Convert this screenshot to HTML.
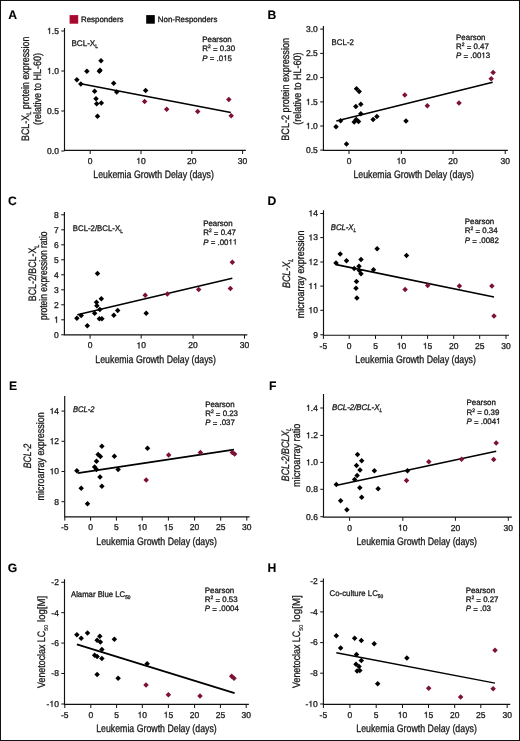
<!DOCTYPE html>
<html><head><meta charset="utf-8"><title>Figure</title>
<style>html,body{margin:0;padding:0;background:#fff;overflow:hidden;width:520px;height:741px;}svg{display:block;will-change:transform;}text{text-rendering:geometricPrecision;stroke:#222;stroke-width:0.3px;}</style>
</head><body>
<svg width="520" height="741" viewBox="0 0 520 741" font-family="Liberation Sans" fill="#111">
<defs><path id="one" d="M347 0V-709H289C258 -600 238 -585 102 -568V-505H259V0Z" fill="#111" stroke="#222" stroke-width="0.3" vector-effect="non-scaling-stroke"/></defs>
<rect x="0" y="0" width="520" height="741" fill="#fff"/>
<rect x="69.6" y="15.1" width="8.6" height="8.6" fill="#a8072f"/>
<text x="81" y="22.2" font-size="7.9">Responders</text>
<rect x="146.2" y="15.1" width="8.6" height="8.6" fill="#000"/>
<text x="157.8" y="22.2" font-size="7.9">Non-Responders</text>
<text x="8.20" y="18.75" font-size="12.2" font-weight="bold" fill="#000" style="stroke-width:0.1px">A</text>
<path d="M64.50 28.00V150.30H245.80" fill="none" stroke="#111" stroke-width="1.15"/>
<path d="M61.30 31.00H64.50" stroke="#111" stroke-width="1"/>
<text x="47.08" y="33.85" font-size="8.5"> .5</text><use href="#one" transform="translate(47.08 33.85) scale(0.00850)"/>
<path d="M61.30 71.00H64.50" stroke="#111" stroke-width="1"/>
<text x="47.08" y="73.85" font-size="8.5"> .0</text><use href="#one" transform="translate(47.08 73.85) scale(0.00850)"/>
<path d="M61.30 111.00H64.50" stroke="#111" stroke-width="1"/>
<text x="47.08" y="113.85" font-size="8.5">0.5</text>
<path d="M61.30 151.00H64.50" stroke="#111" stroke-width="1"/>
<text x="47.08" y="153.85" font-size="8.5">0.0</text>
<path d="M90.20 150.30V154.00" stroke="#111" stroke-width="1"/>
<text x="87.84" y="163.80" font-size="8.5">0</text>
<path d="M141.00 150.30V154.00" stroke="#111" stroke-width="1"/>
<text x="136.27" y="163.80" font-size="8.5"> 0</text><use href="#one" transform="translate(136.27 163.80) scale(0.00850)"/>
<path d="M191.80 150.30V154.00" stroke="#111" stroke-width="1"/>
<text x="187.07" y="163.80" font-size="8.5">20</text>
<path d="M242.60 150.30V154.00" stroke="#111" stroke-width="1"/>
<text x="237.87" y="163.80" font-size="8.5">30</text>
<path d="M80.80 83.70L230.80 112.50" stroke="#000" stroke-width="1.6"/>
<path d="M76.90 77.05L79.65 79.80L76.90 82.55L74.15 79.80Z" fill="#000"/>
<path d="M80.80 81.25L83.55 84.00L80.80 86.75L78.05 84.00Z" fill="#000"/>
<path d="M86.90 68.55L89.65 71.30L86.90 74.05L84.15 71.30Z" fill="#000"/>
<path d="M101.00 58.05L103.75 60.80L101.00 63.55L98.25 60.80Z" fill="#000"/>
<path d="M99.40 68.45L102.15 71.20L99.40 73.95L96.65 71.20Z" fill="#000"/>
<path d="M100.00 67.45L102.75 70.20L100.00 72.95L97.25 70.20Z" fill="#000"/>
<path d="M94.60 88.55L97.35 91.30L94.60 94.05L91.85 91.30Z" fill="#000"/>
<path d="M96.00 95.95L98.75 98.70L96.00 101.45L93.25 98.70Z" fill="#000"/>
<path d="M96.70 101.05L99.45 103.80L96.70 106.55L93.95 103.80Z" fill="#000"/>
<path d="M101.30 100.15L104.05 102.90L101.30 105.65L98.55 102.90Z" fill="#000"/>
<path d="M97.50 113.55L100.25 116.30L97.50 119.05L94.75 116.30Z" fill="#000"/>
<path d="M113.70 80.55L116.45 83.30L113.70 86.05L110.95 83.30Z" fill="#000"/>
<path d="M116.70 89.15L119.45 91.90L116.70 94.65L113.95 91.90Z" fill="#000"/>
<path d="M145.60 87.65L148.35 90.40L145.60 93.15L142.85 90.40Z" fill="#000"/>
<path d="M144.60 98.75L147.35 101.50L144.60 104.25L141.85 101.50Z" fill="#7d1036"/>
<path d="M166.70 106.45L169.45 109.20L166.70 111.95L163.95 109.20Z" fill="#7d1036"/>
<path d="M197.70 108.75L200.45 111.50L197.70 114.25L194.95 111.50Z" fill="#7d1036"/>
<path d="M228.80 96.85L231.55 99.60L228.80 102.35L226.05 99.60Z" fill="#7d1036"/>
<path d="M231.20 113.05L233.95 115.80L231.20 118.55L228.45 115.80Z" fill="#7d1036"/>
<text transform="translate(71.40 45.70) scale(0.99 1)" font-size="8.2"><tspan>BCL-X</tspan><tspan font-size="5.08" dy="1.80">L</tspan></text>
<text x="202.30" y="41.90" font-size="7.9">Pearson</text>
<text x="202.30" y="51.00" font-size="7.9">R<tspan font-size="4.90" dy="-3.00">2</tspan><tspan dy="3.80"> =</tspan><tspan dy="-0.8"> 0.30</tspan></text>
<text x="202.30" y="60.60" font-size="7.9"><tspan font-style="italic">P</tspan><tspan dy="0.8"> =</tspan><tspan dy="-0.8"> .0 5</tspan></text>
<use href="#one" transform="translate(223.16 60.60) scale(0.00790)"/>
<text transform="translate(28.70 88.80) rotate(-90)" text-anchor="middle" font-size="10.8" textLength="104.40" lengthAdjust="spacingAndGlyphs"><tspan>BCL-X</tspan><tspan font-size="6.70" dy="2.38">L</tspan><tspan dy="-2.38"> protein expression</tspan></text>
<text transform="translate(41.00 89.00) rotate(-90)" text-anchor="middle" font-size="10.8" textLength="72.00" lengthAdjust="spacingAndGlyphs"><tspan>(relative to HL-60)</tspan></text>
<text x="93.35" y="177.70" font-size="10.8" textLength="120.6" lengthAdjust="spacingAndGlyphs">Leukemia Growth Delay (days)</text>
<text x="267.50" y="19.20" font-size="12.2" font-weight="bold" fill="#000" style="stroke-width:0.1px">B</text>
<path d="M323.40 26.00V150.30H507.90" fill="none" stroke="#111" stroke-width="1.15"/>
<path d="M320.20 29.10H323.40" stroke="#111" stroke-width="1"/>
<text x="305.98" y="31.95" font-size="8.5">3.0</text>
<path d="M320.20 53.40H323.40" stroke="#111" stroke-width="1"/>
<text x="305.98" y="56.25" font-size="8.5">2.5</text>
<path d="M320.20 77.60H323.40" stroke="#111" stroke-width="1"/>
<text x="305.98" y="80.45" font-size="8.5">2.0</text>
<path d="M320.20 101.90H323.40" stroke="#111" stroke-width="1"/>
<text x="305.98" y="104.75" font-size="8.5"> .5</text><use href="#one" transform="translate(305.98 104.75) scale(0.00850)"/>
<path d="M320.20 126.00H323.40" stroke="#111" stroke-width="1"/>
<text x="305.98" y="128.85" font-size="8.5"> .0</text><use href="#one" transform="translate(305.98 128.85) scale(0.00850)"/>
<path d="M320.20 150.10H323.40" stroke="#111" stroke-width="1"/>
<text x="305.98" y="152.95" font-size="8.5">0.5</text>
<path d="M349.00 150.30V154.00" stroke="#111" stroke-width="1"/>
<text x="346.64" y="163.80" font-size="8.5">0</text>
<path d="M401.30 150.30V154.00" stroke="#111" stroke-width="1"/>
<text x="396.57" y="163.80" font-size="8.5"> 0</text><use href="#one" transform="translate(396.57 163.80) scale(0.00850)"/>
<path d="M453.00 150.30V154.00" stroke="#111" stroke-width="1"/>
<text x="448.27" y="163.80" font-size="8.5">20</text>
<path d="M505.20 150.30V154.00" stroke="#111" stroke-width="1"/>
<text x="500.47" y="163.80" font-size="8.5">30</text>
<path d="M336.30 121.00L492.70 82.30" stroke="#000" stroke-width="1.6"/>
<path d="M336.00 123.95L338.75 126.70L336.00 129.45L333.25 126.70Z" fill="#000"/>
<path d="M340.60 118.05L343.35 120.80L340.60 123.55L337.85 120.80Z" fill="#000"/>
<path d="M346.50 141.25L349.25 144.00L346.50 146.75L343.75 144.00Z" fill="#000"/>
<path d="M354.20 119.15L356.95 121.90L354.20 124.65L351.45 121.90Z" fill="#000"/>
<path d="M356.20 116.85L358.95 119.60L356.20 122.35L353.45 119.60Z" fill="#000"/>
<path d="M358.50 118.75L361.25 121.50L358.50 124.25L355.75 121.50Z" fill="#000"/>
<path d="M355.80 103.65L358.55 106.40L355.80 109.15L353.05 106.40Z" fill="#000"/>
<path d="M360.80 101.45L363.55 104.20L360.80 106.95L358.05 104.20Z" fill="#000"/>
<path d="M360.80 111.05L363.55 113.80L360.80 116.55L358.05 113.80Z" fill="#000"/>
<path d="M356.50 86.05L359.25 88.80L356.50 91.55L353.75 88.80Z" fill="#000"/>
<path d="M359.20 88.75L361.95 91.50L359.20 94.25L356.45 91.50Z" fill="#000"/>
<path d="M373.10 116.85L375.85 119.60L373.10 122.35L370.35 119.60Z" fill="#000"/>
<path d="M376.90 113.75L379.65 116.50L376.90 119.25L374.15 116.50Z" fill="#000"/>
<path d="M406.00 118.25L408.75 121.00L406.00 123.75L403.25 121.00Z" fill="#000"/>
<path d="M404.80 92.25L407.55 95.00L404.80 97.75L402.05 95.00Z" fill="#7d1036"/>
<path d="M427.30 103.05L430.05 105.80L427.30 108.55L424.55 105.80Z" fill="#7d1036"/>
<path d="M459.00 100.15L461.75 102.90L459.00 105.65L456.25 102.90Z" fill="#7d1036"/>
<path d="M491.20 76.05L493.95 78.80L491.20 81.55L488.45 78.80Z" fill="#7d1036"/>
<path d="M493.10 69.75L495.85 72.50L493.10 75.25L490.35 72.50Z" fill="#7d1036"/>
<text transform="translate(331.60 45.20) scale(0.96 1)" font-size="8.2"><tspan>BCL-2</tspan></text>
<text x="456.10" y="40.00" font-size="7.9">Pearson</text>
<text x="456.10" y="49.00" font-size="7.9">R<tspan font-size="4.90" dy="-3.00">2</tspan><tspan dy="3.80"> =</tspan><tspan dy="-0.8"> 0.47</tspan></text>
<text x="456.10" y="58.10" font-size="7.9"><tspan font-style="italic">P</tspan><tspan dy="0.8"> =</tspan><tspan dy="-0.8"> .00 3</tspan></text>
<use href="#one" transform="translate(481.35 58.10) scale(0.00790)"/>
<text transform="translate(288.90 89.35) rotate(-90)" text-anchor="middle" font-size="10.8" textLength="102.90" lengthAdjust="spacingAndGlyphs"><tspan>BCL-2 protein expression</tspan></text>
<text transform="translate(300.80 88.60) rotate(-90)" text-anchor="middle" font-size="10.8" textLength="72.20" lengthAdjust="spacingAndGlyphs"><tspan>(relative to HL-60)</tspan></text>
<text x="353.40" y="177.70" font-size="10.8" textLength="120.6" lengthAdjust="spacingAndGlyphs">Leukemia Growth Delay (days)</text>
<text x="8.10" y="204.80" font-size="12.2" font-weight="bold" fill="#000" style="stroke-width:0.1px">C</text>
<path d="M64.40 212.00V334.90H247.30" fill="none" stroke="#111" stroke-width="1.15"/>
<path d="M61.20 334.80H64.40" stroke="#111" stroke-width="1"/>
<text x="54.07" y="337.65" font-size="8.5">0</text>
<path d="M61.20 319.80H64.40" stroke="#111" stroke-width="1"/>
<text x="54.07" y="322.65" font-size="8.5"> </text><use href="#one" transform="translate(54.07 322.65) scale(0.00850)"/>
<path d="M61.20 304.80H64.40" stroke="#111" stroke-width="1"/>
<text x="54.07" y="307.65" font-size="8.5">2</text>
<path d="M61.20 289.80H64.40" stroke="#111" stroke-width="1"/>
<text x="54.07" y="292.65" font-size="8.5">3</text>
<path d="M61.20 274.80H64.40" stroke="#111" stroke-width="1"/>
<text x="54.07" y="277.65" font-size="8.5">4</text>
<path d="M61.20 259.80H64.40" stroke="#111" stroke-width="1"/>
<text x="54.07" y="262.65" font-size="8.5">5</text>
<path d="M61.20 244.80H64.40" stroke="#111" stroke-width="1"/>
<text x="54.07" y="247.65" font-size="8.5">6</text>
<path d="M61.20 229.80H64.40" stroke="#111" stroke-width="1"/>
<text x="54.07" y="232.65" font-size="8.5">7</text>
<path d="M61.20 214.80H64.40" stroke="#111" stroke-width="1"/>
<text x="54.07" y="217.65" font-size="8.5">8</text>
<path d="M90.10 334.90V338.60" stroke="#111" stroke-width="1"/>
<text x="87.74" y="348.40" font-size="8.5">0</text>
<path d="M141.20 334.90V338.60" stroke="#111" stroke-width="1"/>
<text x="136.47" y="348.40" font-size="8.5"> 0</text><use href="#one" transform="translate(136.47 348.40) scale(0.00850)"/>
<path d="M193.10 334.90V338.60" stroke="#111" stroke-width="1"/>
<text x="188.37" y="348.40" font-size="8.5">20</text>
<path d="M244.50 334.90V338.60" stroke="#111" stroke-width="1"/>
<text x="239.77" y="348.40" font-size="8.5">30</text>
<path d="M77.30 314.80L232.30 278.30" stroke="#000" stroke-width="1.6"/>
<path d="M76.90 315.55L79.65 318.30L76.90 321.05L74.15 318.30Z" fill="#000"/>
<path d="M81.20 312.65L83.95 315.40L81.20 318.15L78.45 315.40Z" fill="#000"/>
<path d="M87.30 323.05L90.05 325.80L87.30 328.55L84.55 325.80Z" fill="#000"/>
<path d="M94.60 310.55L97.35 313.30L94.60 316.05L91.85 313.30Z" fill="#000"/>
<path d="M96.50 299.55L99.25 302.30L96.50 305.05L93.75 302.30Z" fill="#000"/>
<path d="M96.90 303.05L99.65 305.80L96.90 308.55L94.15 305.80Z" fill="#000"/>
<path d="M97.50 270.75L100.25 273.50L97.50 276.25L94.75 273.50Z" fill="#000"/>
<path d="M99.80 306.85L102.55 309.60L99.80 312.35L97.05 309.60Z" fill="#000"/>
<path d="M99.40 315.95L102.15 318.70L99.40 321.45L96.65 318.70Z" fill="#000"/>
<path d="M101.90 315.95L104.65 318.70L101.90 321.45L99.15 318.70Z" fill="#000"/>
<path d="M101.30 296.05L104.05 298.80L101.30 301.55L98.55 298.80Z" fill="#000"/>
<path d="M113.80 312.45L116.55 315.20L113.80 317.95L111.05 315.20Z" fill="#000"/>
<path d="M117.70 307.85L120.45 310.60L117.70 313.35L114.95 310.60Z" fill="#000"/>
<path d="M146.20 310.55L148.95 313.30L146.20 316.05L143.45 313.30Z" fill="#000"/>
<path d="M145.20 292.45L147.95 295.20L145.20 297.95L142.45 295.20Z" fill="#7d1036"/>
<path d="M167.30 291.25L170.05 294.00L167.30 296.75L164.55 294.00Z" fill="#7d1036"/>
<path d="M198.70 286.65L201.45 289.40L198.70 292.15L195.95 289.40Z" fill="#7d1036"/>
<path d="M230.40 285.75L233.15 288.50L230.40 291.25L227.65 288.50Z" fill="#7d1036"/>
<path d="M232.30 259.55L235.05 262.30L232.30 265.05L229.55 262.30Z" fill="#7d1036"/>
<text transform="translate(72.80 231.05) scale(0.954 1)" font-size="8.2"><tspan>BCL-2/BCL-X</tspan><tspan font-size="5.08" dy="1.80">L</tspan></text>
<text x="203.20" y="226.00" font-size="7.9">Pearson</text>
<text x="203.20" y="235.40" font-size="7.9">R<tspan font-size="4.90" dy="-3.00">2</tspan><tspan dy="3.80"> =</tspan><tspan dy="-0.8"> 0.47</tspan></text>
<text x="203.20" y="244.60" font-size="7.9"><tspan font-style="italic">P</tspan><tspan dy="0.8"> =</tspan><tspan dy="-0.8"> .00  </tspan></text>
<use href="#one" transform="translate(228.45 244.60) scale(0.00790)"/>
<use href="#one" transform="translate(232.85 244.60) scale(0.00790)"/>
<text transform="translate(36.40 272.90) rotate(-90)" text-anchor="middle" font-size="10.8" textLength="56.60" lengthAdjust="spacingAndGlyphs"><tspan>BCL-2/BCL-X</tspan><tspan font-size="6.70" dy="2.38">L</tspan></text>
<text transform="translate(46.80 275.75) rotate(-90)" text-anchor="middle" font-size="10.8" textLength="88.70" lengthAdjust="spacingAndGlyphs"><tspan>protein expression ratio</tspan></text>
<text x="95.35" y="362.70" font-size="10.8" textLength="120.6" lengthAdjust="spacingAndGlyphs">Leukemia Growth Delay (days)</text>
<text x="267.50" y="204.80" font-size="12.2" font-weight="bold" fill="#000" style="stroke-width:0.1px">D</text>
<path d="M323.50 210.20V335.20H509.00" fill="none" stroke="#111" stroke-width="1.15"/>
<path d="M320.30 213.50H323.50" stroke="#111" stroke-width="1"/>
<text x="308.45" y="216.35" font-size="8.5"> 4</text><use href="#one" transform="translate(308.45 216.35) scale(0.00850)"/>
<path d="M320.30 237.60H323.50" stroke="#111" stroke-width="1"/>
<text x="308.45" y="240.45" font-size="8.5"> 3</text><use href="#one" transform="translate(308.45 240.45) scale(0.00850)"/>
<path d="M320.30 262.00H323.50" stroke="#111" stroke-width="1"/>
<text x="308.45" y="264.85" font-size="8.5"> 2</text><use href="#one" transform="translate(308.45 264.85) scale(0.00850)"/>
<path d="M320.30 286.10H323.50" stroke="#111" stroke-width="1"/>
<text x="308.45" y="288.95" font-size="8.5">  </text><use href="#one" transform="translate(308.45 288.95) scale(0.00850)"/><use href="#one" transform="translate(313.17 288.95) scale(0.00850)"/>
<path d="M320.30 310.30H323.50" stroke="#111" stroke-width="1"/>
<text x="308.45" y="313.15" font-size="8.5"> 0</text><use href="#one" transform="translate(308.45 313.15) scale(0.00850)"/>
<path d="M320.30 334.80H323.50" stroke="#111" stroke-width="1"/>
<text x="313.17" y="337.65" font-size="8.5">9</text>
<path d="M323.40 335.20V338.90" stroke="#111" stroke-width="1"/>
<text x="319.62" y="348.70" font-size="8.5">-5</text>
<path d="M349.20 335.20V338.90" stroke="#111" stroke-width="1"/>
<text x="346.84" y="348.70" font-size="8.5">0</text>
<path d="M375.50 335.20V338.90" stroke="#111" stroke-width="1"/>
<text x="373.14" y="348.70" font-size="8.5">5</text>
<path d="M401.60 335.20V338.90" stroke="#111" stroke-width="1"/>
<text x="396.87" y="348.70" font-size="8.5"> 0</text><use href="#one" transform="translate(396.87 348.70) scale(0.00850)"/>
<path d="M427.60 335.20V338.90" stroke="#111" stroke-width="1"/>
<text x="422.87" y="348.70" font-size="8.5"> 5</text><use href="#one" transform="translate(422.87 348.70) scale(0.00850)"/>
<path d="M453.70 335.20V338.90" stroke="#111" stroke-width="1"/>
<text x="448.97" y="348.70" font-size="8.5">20</text>
<path d="M479.70 335.20V338.90" stroke="#111" stroke-width="1"/>
<text x="474.97" y="348.70" font-size="8.5">25</text>
<path d="M506.00 335.20V338.90" stroke="#111" stroke-width="1"/>
<text x="501.27" y="348.70" font-size="8.5">30</text>
<path d="M336.30 264.60L494.00 297.00" stroke="#000" stroke-width="1.6"/>
<path d="M336.00 260.35L338.75 263.10L336.00 265.85L333.25 263.10Z" fill="#000"/>
<path d="M340.20 251.25L342.95 254.00L340.20 256.75L337.45 254.00Z" fill="#000"/>
<path d="M346.50 258.05L349.25 260.80L346.50 263.55L343.75 260.80Z" fill="#000"/>
<path d="M354.20 265.75L356.95 268.50L354.20 271.25L351.45 268.50Z" fill="#000"/>
<path d="M359.00 263.45L361.75 266.20L359.00 268.95L356.25 266.20Z" fill="#000"/>
<path d="M359.40 267.65L362.15 270.40L359.40 273.15L356.65 270.40Z" fill="#000"/>
<path d="M361.00 271.05L363.75 273.80L361.00 276.55L358.25 273.80Z" fill="#000"/>
<path d="M361.00 256.65L363.75 259.40L361.00 262.15L358.25 259.40Z" fill="#000"/>
<path d="M356.50 278.75L359.25 281.50L356.50 284.25L353.75 281.50Z" fill="#000"/>
<path d="M356.00 285.55L358.75 288.30L356.00 291.05L353.25 288.30Z" fill="#000"/>
<path d="M356.90 295.15L359.65 297.90L356.90 300.65L354.15 297.90Z" fill="#000"/>
<path d="M373.50 267.05L376.25 269.80L373.50 272.55L370.75 269.80Z" fill="#000"/>
<path d="M377.10 246.05L379.85 248.80L377.10 251.55L374.35 248.80Z" fill="#000"/>
<path d="M406.50 252.85L409.25 255.60L406.50 258.35L403.75 255.60Z" fill="#000"/>
<path d="M405.10 286.75L407.85 289.50L405.10 292.25L402.35 289.50Z" fill="#7d1036"/>
<path d="M427.70 282.75L430.45 285.50L427.70 288.25L424.95 285.50Z" fill="#7d1036"/>
<path d="M459.40 283.15L462.15 285.90L459.40 288.65L456.65 285.90Z" fill="#7d1036"/>
<path d="M491.90 283.15L494.65 285.90L491.90 288.65L489.15 285.90Z" fill="#7d1036"/>
<path d="M494.00 313.25L496.75 316.00L494.00 318.75L491.25 316.00Z" fill="#7d1036"/>
<text transform="translate(330.75 229.70) scale(0.943 1)" font-size="8.2" font-style="italic"><tspan>BCL-X</tspan><tspan font-size="5.08" dy="1.80">L</tspan></text>
<text x="464.80" y="224.00" font-size="7.9">Pearson</text>
<text x="464.80" y="233.10" font-size="7.9">R<tspan font-size="4.90" dy="-3.00">2</tspan><tspan dy="3.80"> =</tspan><tspan dy="-0.8"> 0.34</tspan></text>
<text x="464.80" y="242.70" font-size="7.9"><tspan font-style="italic">P</tspan><tspan dy="0.8"> =</tspan><tspan dy="-0.8"> .0082</tspan></text>
<text transform="translate(290.40 273.40) rotate(-90)" text-anchor="middle" font-size="10.8" textLength="29.20" lengthAdjust="spacingAndGlyphs" font-style="italic"><tspan>BCL-X</tspan><tspan font-size="6.70" dy="2.38">L</tspan></text>
<text transform="translate(304.00 274.35) rotate(-90)" text-anchor="middle" font-size="10.8" textLength="87.70" lengthAdjust="spacingAndGlyphs"><tspan>microarray expression</tspan></text>
<text x="355.35" y="362.50" font-size="10.8" textLength="120.6" lengthAdjust="spacingAndGlyphs">Leukemia Growth Delay (days)</text>
<text x="9.00" y="389.80" font-size="12.2" font-weight="bold" fill="#000" style="stroke-width:0.1px">E</text>
<path d="M64.70 396.00V516.90H249.60" fill="none" stroke="#111" stroke-width="1.15"/>
<path d="M61.50 411.10H64.70" stroke="#111" stroke-width="1"/>
<text x="49.65" y="413.95" font-size="8.5"> 4</text><use href="#one" transform="translate(49.65 413.95) scale(0.00850)"/>
<path d="M61.50 441.30H64.70" stroke="#111" stroke-width="1"/>
<text x="49.65" y="444.15" font-size="8.5"> 2</text><use href="#one" transform="translate(49.65 444.15) scale(0.00850)"/>
<path d="M61.50 471.50H64.70" stroke="#111" stroke-width="1"/>
<text x="49.65" y="474.35" font-size="8.5"> 0</text><use href="#one" transform="translate(49.65 474.35) scale(0.00850)"/>
<path d="M61.50 501.70H64.70" stroke="#111" stroke-width="1"/>
<text x="54.37" y="504.55" font-size="8.5">8</text>
<path d="M64.80 516.90V520.60" stroke="#111" stroke-width="1"/>
<text x="61.02" y="530.40" font-size="8.5">-5</text>
<path d="M90.60 516.90V520.60" stroke="#111" stroke-width="1"/>
<text x="88.24" y="530.40" font-size="8.5">0</text>
<path d="M116.40 516.90V520.60" stroke="#111" stroke-width="1"/>
<text x="114.04" y="530.40" font-size="8.5">5</text>
<path d="M142.20 516.90V520.60" stroke="#111" stroke-width="1"/>
<text x="137.47" y="530.40" font-size="8.5"> 0</text><use href="#one" transform="translate(137.47 530.40) scale(0.00850)"/>
<path d="M168.40 516.90V520.60" stroke="#111" stroke-width="1"/>
<text x="163.67" y="530.40" font-size="8.5"> 5</text><use href="#one" transform="translate(163.67 530.40) scale(0.00850)"/>
<path d="M194.60 516.90V520.60" stroke="#111" stroke-width="1"/>
<text x="189.87" y="530.40" font-size="8.5">20</text>
<path d="M220.70 516.90V520.60" stroke="#111" stroke-width="1"/>
<text x="215.97" y="530.40" font-size="8.5">25</text>
<path d="M246.80 516.90V520.60" stroke="#111" stroke-width="1"/>
<text x="242.07" y="530.40" font-size="8.5">30</text>
<path d="M77.70 473.10L234.00 449.60" stroke="#000" stroke-width="1.6"/>
<path d="M76.90 468.05L79.65 470.80L76.90 473.55L74.15 470.80Z" fill="#000"/>
<path d="M81.20 485.55L83.95 488.30L81.20 491.05L78.45 488.30Z" fill="#000"/>
<path d="M87.50 500.95L90.25 503.70L87.50 506.45L84.75 503.70Z" fill="#000"/>
<path d="M94.60 464.15L97.35 466.90L94.60 469.65L91.85 466.90Z" fill="#000"/>
<path d="M96.50 466.65L99.25 469.40L96.50 472.15L93.75 469.40Z" fill="#000"/>
<path d="M96.50 458.45L99.25 461.20L96.50 463.95L93.75 461.20Z" fill="#000"/>
<path d="M98.10 451.85L100.85 454.60L98.10 457.35L95.35 454.60Z" fill="#000"/>
<path d="M100.40 453.75L103.15 456.50L100.40 459.25L97.65 456.50Z" fill="#000"/>
<path d="M101.90 443.55L104.65 446.30L101.90 449.05L99.15 446.30Z" fill="#000"/>
<path d="M100.00 474.35L102.75 477.10L100.00 479.85L97.25 477.10Z" fill="#000"/>
<path d="M101.90 483.55L104.65 486.30L101.90 489.05L99.15 486.30Z" fill="#000"/>
<path d="M114.40 453.55L117.15 456.30L114.40 459.05L111.65 456.30Z" fill="#000"/>
<path d="M118.10 466.65L120.85 469.40L118.10 472.15L115.35 469.40Z" fill="#000"/>
<path d="M147.50 445.55L150.25 448.30L147.50 451.05L144.75 448.30Z" fill="#000"/>
<path d="M146.20 477.25L148.95 480.00L146.20 482.75L143.45 480.00Z" fill="#7d1036"/>
<path d="M168.70 452.25L171.45 455.00L168.70 457.75L165.95 455.00Z" fill="#7d1036"/>
<path d="M200.40 449.75L203.15 452.50L200.40 455.25L197.65 452.50Z" fill="#7d1036"/>
<path d="M232.30 449.75L235.05 452.50L232.30 455.25L229.55 452.50Z" fill="#7d1036"/>
<path d="M234.60 451.25L237.35 454.00L234.60 456.75L231.85 454.00Z" fill="#7d1036"/>
<text transform="translate(73.00 411.80) scale(0.93 1)" font-size="8.2" font-style="italic"><tspan>BCL-2</tspan></text>
<text x="205.20" y="406.70" font-size="7.9">Pearson</text>
<text x="205.20" y="416.00" font-size="7.9">R<tspan font-size="4.90" dy="-3.00">2</tspan><tspan dy="3.80"> =</tspan><tspan dy="-0.8"> 0.23</tspan></text>
<text x="205.20" y="425.20" font-size="7.9"><tspan font-style="italic">P</tspan><tspan dy="0.8"> =</tspan><tspan dy="-0.8"> .037</tspan></text>
<text transform="translate(31.10 456.00) rotate(-90)" text-anchor="middle" font-size="10.8" textLength="24.50" lengthAdjust="spacingAndGlyphs" font-style="italic"><tspan>BCL-2</tspan></text>
<text transform="translate(44.30 456.35) rotate(-90)" text-anchor="middle" font-size="10.8" textLength="88.10" lengthAdjust="spacingAndGlyphs"><tspan>microarray expression</tspan></text>
<text x="96.35" y="544.70" font-size="10.8" textLength="120.6" lengthAdjust="spacingAndGlyphs">Leukemia Growth Delay (days)</text>
<text x="269.00" y="389.80" font-size="12.2" font-weight="bold" fill="#000" style="stroke-width:0.1px">F</text>
<path d="M323.50 394.10V517.10H511.80" fill="none" stroke="#111" stroke-width="1.15"/>
<path d="M320.30 408.00H323.50" stroke="#111" stroke-width="1"/>
<text x="306.08" y="410.85" font-size="8.5"> .4</text><use href="#one" transform="translate(306.08 410.85) scale(0.00850)"/>
<path d="M320.30 435.40H323.50" stroke="#111" stroke-width="1"/>
<text x="306.08" y="438.25" font-size="8.5"> .2</text><use href="#one" transform="translate(306.08 438.25) scale(0.00850)"/>
<path d="M320.30 462.40H323.50" stroke="#111" stroke-width="1"/>
<text x="306.08" y="465.25" font-size="8.5"> .0</text><use href="#one" transform="translate(306.08 465.25) scale(0.00850)"/>
<path d="M320.30 489.30H323.50" stroke="#111" stroke-width="1"/>
<text x="306.08" y="492.15" font-size="8.5">0.8</text>
<path d="M320.30 516.70H323.50" stroke="#111" stroke-width="1"/>
<text x="306.08" y="519.55" font-size="8.5">0.6</text>
<path d="M349.60 517.10V520.80" stroke="#111" stroke-width="1"/>
<text x="347.24" y="530.60" font-size="8.5">0</text>
<path d="M402.80 517.10V520.80" stroke="#111" stroke-width="1"/>
<text x="398.07" y="530.60" font-size="8.5"> 0</text><use href="#one" transform="translate(398.07 530.60) scale(0.00850)"/>
<path d="M455.40 517.10V520.80" stroke="#111" stroke-width="1"/>
<text x="450.67" y="530.60" font-size="8.5">20</text>
<path d="M508.30 517.10V520.80" stroke="#111" stroke-width="1"/>
<text x="503.57" y="530.60" font-size="8.5">30</text>
<path d="M336.90 485.20L496.20 451.20" stroke="#000" stroke-width="1.6"/>
<path d="M336.30 481.65L339.05 484.40L336.30 487.15L333.55 484.40Z" fill="#000"/>
<path d="M340.60 498.05L343.35 500.80L340.60 503.55L337.85 500.80Z" fill="#000"/>
<path d="M346.90 507.05L349.65 509.80L346.90 512.55L344.15 509.80Z" fill="#000"/>
<path d="M354.60 476.65L357.35 479.40L354.60 482.15L351.85 479.40Z" fill="#000"/>
<path d="M357.10 472.85L359.85 475.60L357.10 478.35L354.35 475.60Z" fill="#000"/>
<path d="M356.50 462.85L359.25 465.60L356.50 468.35L353.75 465.60Z" fill="#000"/>
<path d="M360.00 467.25L362.75 470.00L360.00 472.75L357.25 470.00Z" fill="#000"/>
<path d="M357.50 451.85L360.25 454.60L357.50 457.35L354.75 454.60Z" fill="#000"/>
<path d="M361.70 458.05L364.45 460.80L361.70 463.55L358.95 460.80Z" fill="#000"/>
<path d="M359.80 484.95L362.55 487.70L359.80 490.45L357.05 487.70Z" fill="#000"/>
<path d="M361.70 494.55L364.45 497.30L361.70 500.05L358.95 497.30Z" fill="#000"/>
<path d="M374.40 468.05L377.15 470.80L374.40 473.55L371.65 470.80Z" fill="#000"/>
<path d="M378.10 485.95L380.85 488.70L378.10 491.45L375.35 488.70Z" fill="#000"/>
<path d="M407.50 468.05L410.25 470.80L407.50 473.55L404.75 470.80Z" fill="#000"/>
<path d="M406.50 477.85L409.25 480.60L406.50 483.35L403.75 480.60Z" fill="#7d1036"/>
<path d="M428.80 458.95L431.55 461.70L428.80 464.45L426.05 461.70Z" fill="#7d1036"/>
<path d="M461.50 456.45L464.25 459.20L461.50 461.95L458.75 459.20Z" fill="#7d1036"/>
<path d="M493.70 456.85L496.45 459.60L493.70 462.35L490.95 459.60Z" fill="#7d1036"/>
<path d="M496.20 440.15L498.95 442.90L496.20 445.65L493.45 442.90Z" fill="#7d1036"/>
<text transform="translate(331.90 410.10) scale(0.958 1)" font-size="8.2" font-style="italic"><tspan>BCL-2/BCL-X</tspan><tspan font-size="5.08" dy="1.80">L</tspan></text>
<text x="466.50" y="405.00" font-size="7.9">Pearson</text>
<text x="466.50" y="414.60" font-size="7.9">R<tspan font-size="4.90" dy="-3.00">2</tspan><tspan dy="3.80"> =</tspan><tspan dy="-0.8"> 0.39</tspan></text>
<text x="466.50" y="423.70" font-size="7.9"><tspan font-style="italic">P</tspan><tspan dy="0.8"> =</tspan><tspan dy="-0.8"> .004 </tspan></text>
<use href="#one" transform="translate(496.15 423.70) scale(0.00790)"/>
<text transform="translate(288.90 454.60) rotate(-90)" text-anchor="middle" font-size="10.8" textLength="53.20" lengthAdjust="spacingAndGlyphs" font-style="italic"><tspan>BCL-2/BCLX</tspan><tspan font-size="6.70" dy="2.38">L</tspan></text>
<text transform="translate(300.00 455.30) rotate(-90)" text-anchor="middle" font-size="10.8" textLength="63.20" lengthAdjust="spacingAndGlyphs"><tspan>microarray ratio</tspan></text>
<text x="356.45" y="544.70" font-size="10.8" textLength="120.6" lengthAdjust="spacingAndGlyphs">Leukemia Growth Delay (days)</text>
<text x="7.70" y="572.20" font-size="12.2" font-weight="bold" fill="#000" style="stroke-width:0.1px">G</text>
<path d="M64.50 579.20V704.30H248.90" fill="none" stroke="#111" stroke-width="1.15"/>
<path d="M61.30 582.30H64.50" stroke="#111" stroke-width="1"/>
<text x="51.34" y="585.15" font-size="8.5">-2</text>
<path d="M61.30 612.70H64.50" stroke="#111" stroke-width="1"/>
<text x="51.34" y="615.55" font-size="8.5">-4</text>
<path d="M61.30 643.10H64.50" stroke="#111" stroke-width="1"/>
<text x="51.34" y="645.95" font-size="8.5">-6</text>
<path d="M61.30 673.50H64.50" stroke="#111" stroke-width="1"/>
<text x="51.34" y="676.35" font-size="8.5">-8</text>
<path d="M61.30 704.00H64.50" stroke="#111" stroke-width="1"/>
<text x="46.61" y="706.85" font-size="8.5">- 0</text><use href="#one" transform="translate(49.45 706.85) scale(0.00850)"/>
<path d="M64.80 704.30V708.00" stroke="#111" stroke-width="1"/>
<text x="61.02" y="717.80" font-size="8.5">-5</text>
<path d="M90.80 704.30V708.00" stroke="#111" stroke-width="1"/>
<text x="88.44" y="717.80" font-size="8.5">0</text>
<path d="M116.60 704.30V708.00" stroke="#111" stroke-width="1"/>
<text x="114.24" y="717.80" font-size="8.5">5</text>
<path d="M142.30 704.30V708.00" stroke="#111" stroke-width="1"/>
<text x="137.57" y="717.80" font-size="8.5"> 0</text><use href="#one" transform="translate(137.57 717.80) scale(0.00850)"/>
<path d="M168.40 704.30V708.00" stroke="#111" stroke-width="1"/>
<text x="163.67" y="717.80" font-size="8.5"> 5</text><use href="#one" transform="translate(163.67 717.80) scale(0.00850)"/>
<path d="M194.60 704.30V708.00" stroke="#111" stroke-width="1"/>
<text x="189.87" y="717.80" font-size="8.5">20</text>
<path d="M220.40 704.30V708.00" stroke="#111" stroke-width="1"/>
<text x="215.67" y="717.80" font-size="8.5">25</text>
<path d="M246.20 704.30V708.00" stroke="#111" stroke-width="1"/>
<text x="241.47" y="717.80" font-size="8.5">30</text>
<path d="M76.90 644.40L234.60 693.10" stroke="#000" stroke-width="1.9"/>
<path d="M76.90 632.05L79.65 634.80L76.90 637.55L74.15 634.80Z" fill="#000"/>
<path d="M81.20 635.55L83.95 638.30L81.20 641.05L78.45 638.30Z" fill="#000"/>
<path d="M87.50 630.35L90.25 633.10L87.50 635.85L84.75 633.10Z" fill="#000"/>
<path d="M97.10 637.45L99.85 640.20L97.10 642.95L94.35 640.20Z" fill="#000"/>
<path d="M99.80 633.55L102.55 636.30L99.80 639.05L97.05 636.30Z" fill="#000"/>
<path d="M100.40 639.35L103.15 642.10L100.40 644.85L97.65 642.10Z" fill="#000"/>
<path d="M101.90 646.65L104.65 649.40L101.90 652.15L99.15 649.40Z" fill="#000"/>
<path d="M94.60 652.45L97.35 655.20L94.60 657.95L91.85 655.20Z" fill="#000"/>
<path d="M97.10 653.75L99.85 656.50L97.10 659.25L94.35 656.50Z" fill="#000"/>
<path d="M101.90 655.75L104.65 658.50L101.90 661.25L99.15 658.50Z" fill="#000"/>
<path d="M97.10 671.65L99.85 674.40L97.10 677.15L94.35 674.40Z" fill="#000"/>
<path d="M114.40 636.45L117.15 639.20L114.40 641.95L111.65 639.20Z" fill="#000"/>
<path d="M118.10 675.55L120.85 678.30L118.10 681.05L115.35 678.30Z" fill="#000"/>
<path d="M147.10 661.05L149.85 663.80L147.10 666.55L144.35 663.80Z" fill="#000"/>
<path d="M146.00 682.25L148.75 685.00L146.00 687.75L143.25 685.00Z" fill="#7d1036"/>
<path d="M168.40 692.05L171.15 694.80L168.40 697.55L165.65 694.80Z" fill="#7d1036"/>
<path d="M200.00 693.15L202.75 695.90L200.00 698.65L197.25 695.90Z" fill="#7d1036"/>
<path d="M231.70 673.55L234.45 676.30L231.70 679.05L228.95 676.30Z" fill="#7d1036"/>
<path d="M234.00 675.55L236.75 678.30L234.00 681.05L231.25 678.30Z" fill="#7d1036"/>
<text transform="translate(71.00 597.40) scale(0.944 1)" font-size="8.2"><tspan>Alamar Blue LC</tspan><tspan font-size="5.08" dy="1.80">50</tspan></text>
<text x="204.80" y="592.70" font-size="7.9">Pearson</text>
<text x="204.80" y="602.30" font-size="7.9">R<tspan font-size="4.90" dy="-3.00">2</tspan><tspan dy="3.80"> =</tspan><tspan dy="-0.8"> 0.53</tspan></text>
<text x="204.80" y="611.30" font-size="7.9"><tspan font-style="italic">P</tspan><tspan dy="0.8"> =</tspan><tspan dy="-0.8"> .0004</tspan></text>
<text transform="translate(45.10 687.90) rotate(-90)" font-size="10.8" textLength="57.10" lengthAdjust="spacingAndGlyphs" xml:space="preserve">Venetoclax LC</text>
<text transform="translate(48.10 630.80) rotate(-90)" font-size="5.6" textLength="6.20" lengthAdjust="spacingAndGlyphs" style="stroke-width:0.15px">50</text>
<text transform="translate(45.10 624.60) rotate(-90)" font-size="10.8" textLength="28.70" lengthAdjust="spacingAndGlyphs" xml:space="preserve"> log[M]</text>
<text x="96.15" y="731.70" font-size="10.8" textLength="120.6" lengthAdjust="spacingAndGlyphs">Leukemia Growth Delay (days)</text>
<text x="267.50" y="571.90" font-size="12.2" font-weight="bold" fill="#000" style="stroke-width:0.1px">H</text>
<path d="M323.40 578.50V704.30H510.30" fill="none" stroke="#111" stroke-width="1.15"/>
<path d="M320.20 581.30H323.40" stroke="#111" stroke-width="1"/>
<text x="310.24" y="584.15" font-size="8.5">-2</text>
<path d="M320.20 611.90H323.40" stroke="#111" stroke-width="1"/>
<text x="310.24" y="614.75" font-size="8.5">-4</text>
<path d="M320.20 642.60H323.40" stroke="#111" stroke-width="1"/>
<text x="310.24" y="645.45" font-size="8.5">-6</text>
<path d="M320.20 673.20H323.40" stroke="#111" stroke-width="1"/>
<text x="310.24" y="676.05" font-size="8.5">-8</text>
<path d="M320.20 704.00H323.40" stroke="#111" stroke-width="1"/>
<text x="305.51" y="706.85" font-size="8.5">- 0</text><use href="#one" transform="translate(308.35 706.85) scale(0.00850)"/>
<path d="M323.40 704.30V708.00" stroke="#111" stroke-width="1"/>
<text x="319.62" y="717.80" font-size="8.5">-5</text>
<path d="M349.90 704.30V708.00" stroke="#111" stroke-width="1"/>
<text x="347.54" y="717.80" font-size="8.5">0</text>
<path d="M376.20 704.30V708.00" stroke="#111" stroke-width="1"/>
<text x="373.84" y="717.80" font-size="8.5">5</text>
<path d="M402.50 704.30V708.00" stroke="#111" stroke-width="1"/>
<text x="397.77" y="717.80" font-size="8.5"> 0</text><use href="#one" transform="translate(397.77 717.80) scale(0.00850)"/>
<path d="M428.50 704.30V708.00" stroke="#111" stroke-width="1"/>
<text x="423.77" y="717.80" font-size="8.5"> 5</text><use href="#one" transform="translate(423.77 717.80) scale(0.00850)"/>
<path d="M454.70 704.30V708.00" stroke="#111" stroke-width="1"/>
<text x="449.97" y="717.80" font-size="8.5">20</text>
<path d="M480.80 704.30V708.00" stroke="#111" stroke-width="1"/>
<text x="476.07" y="717.80" font-size="8.5">25</text>
<path d="M507.20 704.30V708.00" stroke="#111" stroke-width="1"/>
<text x="502.47" y="717.80" font-size="8.5">30</text>
<path d="M336.30 652.70L495.00 683.10" stroke="#000" stroke-width="1.4"/>
<path d="M336.30 633.05L339.05 635.80L336.30 638.55L333.55 635.80Z" fill="#000"/>
<path d="M340.60 645.15L343.35 647.90L340.60 650.65L337.85 647.90Z" fill="#000"/>
<path d="M354.60 635.55L357.35 638.30L354.60 641.05L351.85 638.30Z" fill="#000"/>
<path d="M361.30 637.85L364.05 640.60L361.30 643.35L358.55 640.60Z" fill="#000"/>
<path d="M356.50 651.85L359.25 654.60L356.50 657.35L353.75 654.60Z" fill="#000"/>
<path d="M361.30 657.65L364.05 660.40L361.30 663.15L358.55 660.40Z" fill="#000"/>
<path d="M356.00 661.45L358.75 664.20L356.00 666.95L353.25 664.20Z" fill="#000"/>
<path d="M359.00 663.75L361.75 666.50L359.00 669.25L356.25 666.50Z" fill="#000"/>
<path d="M357.10 668.25L359.85 671.00L357.10 673.75L354.35 671.00Z" fill="#000"/>
<path d="M359.80 667.85L362.55 670.60L359.80 673.35L357.05 670.60Z" fill="#000"/>
<path d="M374.20 640.95L376.95 643.70L374.20 646.45L371.45 643.70Z" fill="#000"/>
<path d="M377.70 681.05L380.45 683.80L377.70 686.55L374.95 683.80Z" fill="#000"/>
<path d="M406.90 655.35L409.65 658.10L406.90 660.85L404.15 658.10Z" fill="#000"/>
<path d="M428.70 685.55L431.45 688.30L428.70 691.05L425.95 688.30Z" fill="#7d1036"/>
<path d="M460.60 694.15L463.35 696.90L460.60 699.65L457.85 696.90Z" fill="#7d1036"/>
<path d="M493.10 686.05L495.85 688.80L493.10 691.55L490.35 688.80Z" fill="#7d1036"/>
<path d="M495.00 647.45L497.75 650.20L495.00 652.95L492.25 650.20Z" fill="#7d1036"/>
<text transform="translate(329.60 595.80) scale(0.954 1)" font-size="8.2"><tspan>Co-culture LC</tspan><tspan font-size="5.08" dy="1.80">50</tspan></text>
<text x="465.70" y="592.50" font-size="7.9">Pearson</text>
<text x="465.70" y="601.90" font-size="7.9">R<tspan font-size="4.90" dy="-3.00">2</tspan><tspan dy="3.80"> =</tspan><tspan dy="-0.8"> 0.27</tspan></text>
<text x="465.70" y="611.30" font-size="7.9"><tspan font-style="italic">P</tspan><tspan dy="0.8"> =</tspan><tspan dy="-0.8"> .03</tspan></text>
<text transform="translate(300.20 687.90) rotate(-90)" font-size="10.8" textLength="57.10" lengthAdjust="spacingAndGlyphs" xml:space="preserve">Venetoclax LC</text>
<text transform="translate(303.20 630.80) rotate(-90)" font-size="5.6" textLength="6.20" lengthAdjust="spacingAndGlyphs" style="stroke-width:0.15px">50</text>
<text transform="translate(300.20 624.60) rotate(-90)" font-size="10.8" textLength="29.40" lengthAdjust="spacingAndGlyphs" xml:space="preserve"> log[M]</text>
<text x="356.25" y="731.70" font-size="10.8" textLength="120.6" lengthAdjust="spacingAndGlyphs">Leukemia Growth Delay (days)</text>
<rect x="0.5" y="0.5" width="519" height="740" fill="none" stroke="#111" stroke-width="1"/>
</svg>
</body></html>
